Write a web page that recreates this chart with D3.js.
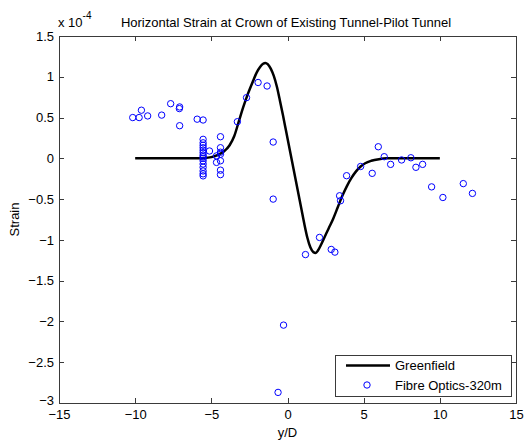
<!DOCTYPE html>
<html><head><meta charset="utf-8">
<script src="https://cdn.jsdelivr.net/npm/d3@7/dist/d3.min.js"></script>
<style>body{margin:0;background:#fff}svg{display:block;font-family:"Liberation Sans",Arial,sans-serif}</style>
</head><body><svg id="c" width="531" height="441"></svg>
<script>
const titleText = "Horizontal Strain at Crown of Existing Tunnel-Pilot Tunnel";
const xTicks = [-15, -10, -5, 0, 5, 10, 15];
const yTicks = [-3, -2.5, -2, -1.5, -1, -0.5, 0, 0.5, 1, 1.5];
const seriesNames = ["Greenfield", "Fibre Optics-320m"];
// Greenfield curve (x10^-4)
const curveX = [-10,-8,-6,-5.5,-5,-4.6,-4.2,-3.8,-3.5,-3.2,-2.9,-2.6,-2.3,-2.0,-1.8,-1.6,-1.45,-1.3,-1.1,-0.9,-0.7,-0.5,-0.3,-0.1,0.1,0.3,0.5,0.7,0.9,1.1,1.3,1.5,1.7,1.85,2.0,2.2,2.4,2.7,3.0,3.3,3.6,3.9,4.2,4.5,4.8,5.1,5.5,6.0,6.5,8,10];
const curveY = [0,0,0,0.003,0.015,0.04,0.08,0.16,0.27,0.45,0.63,0.79,0.93,1.06,1.12,1.16,1.17,1.155,1.10,1.01,0.88,0.71,0.53,0.34,0.15,-0.04,-0.23,-0.42,-0.61,-0.80,-0.97,-1.09,-1.15,-1.16,-1.13,-1.06,-0.98,-0.86,-0.74,-0.60,-0.46,-0.34,-0.24,-0.16,-0.10,-0.06,-0.03,-0.01,0,0,0];
// Fibre optics measurements (x10^-4)
const fibreX = [-10.16,-9.74,-9.59,-9.18,-8.26,-7.67,-7.10,-7.08,-7.08,-5.93,-5.54,
  -5.54,-5.54,-5.54,-5.54,-5.54,-5.54,-5.54,-5.54,-5.54,-5.54,-5.54,-5.54,-5.54,-5.54,-5.54,
  -5.12,-4.4,-4.4,-4.4,-4.4,-4.4,-4.4,-4.4,-4.66,-4.66,
  -3.29,-2.69,-1.93,-1.34,-0.94,-0.94,-0.26,-0.62,
  1.18,2.10,2.87,3.11,3.42,3.48,3.88,4.8,5.56,5.96,6.35,6.77,7.49,8.1,8.43,8.87,9.46,10.2,11.54,12.14];
const fibreY = [0.50,0.50,0.59,0.52,0.53,0.67,0.61,0.63,0.40,0.48,0.47,
  0.233,0.19,0.16,0.13,0.10,0.07,0.04,0.02,0.0,-0.03,-0.07,-0.11,-0.155,-0.19,-0.215,
  0.09,0.265,0.13,0.075,0.05,-0.03,-0.145,-0.2,0.03,-0.05,
  0.449,0.744,0.93,0.887,0.2,-0.5,-2.045,-2.87,
  -1.18,-0.97,-1.117,-1.15,-0.459,-0.52,-0.213,-0.10,-0.184,0.142,0.02,-0.074,-0.02,0.007,-0.11,-0.074,-0.35,-0.48,-0.31,-0.43];

const svg = d3.select("#c");
const L = 59, R = 516, T = 36, B = 403;
const x = d3.scaleLinear().domain([-15, 15]).range([L, R]);
const y = d3.scaleLinear().domain([-3, 1.5]).range([B, T]);
const axisCol = "#3a3a3a";
const fs = "13px";

svg.append("rect").attr("x", L).attr("y", T).attr("width", R - L).attr("height", B - T)
  .attr("fill", "none").attr("stroke", axisCol).attr("stroke-width", 1).attr("shape-rendering", "crispEdges");

const tl = 5;
function styleAxis(g) {
  g.select(".domain").remove();
  g.selectAll(".tick line").attr("stroke", axisCol).attr("shape-rendering", "crispEdges");
  g.selectAll("text").attr("fill", "#000").style("font-size", fs).style("font-family", '"Liberation Sans",Arial,sans-serif');
}
svg.append("g").attr("transform", `translate(0,${B})`)
  .call(d3.axisBottom(x).tickValues(xTicks).tickSize(-tl).tickPadding(4).tickFormat(d3.format("d")))
  .call(styleAxis).selectAll("text").attr("dy", "0.95em");
svg.append("g").attr("transform", `translate(0,${T})`)
  .call(d3.axisTop(x).tickValues(xTicks).tickSize(-tl).tickFormat(""))
  .call(styleAxis);
const yAx = svg.append("g").attr("transform", `translate(${L},0)`)
  .call(d3.axisLeft(y).tickValues(yTicks).tickSize(-tl).tickPadding(5).tickFormat(d => d3.format("")(d)))
  .call(styleAxis);
yAx.selectAll(".tick text").filter(d => d === -3).attr("dy", "0.1em");
svg.append("g").attr("transform", `translate(${R},0)`)
  .call(d3.axisRight(y).tickValues(yTicks).tickSize(-tl).tickFormat(""))
  .call(styleAxis);

const curve = curveX.map((v, i) => [v, curveY[i]]);
svg.append("path").datum(curve)
  .attr("d", d3.line().x(d => x(d[0])).y(d => y(d[1])).curve(d3.curveMonotoneX))
  .attr("fill", "none").attr("stroke", "#000").attr("stroke-width", 2.5).attr("stroke-linejoin", "round");

const pts = fibreX.map((v, i) => [v, fibreY[i]]);
svg.append("g").selectAll("circle").data(pts).join("circle")
  .attr("cx", d => x(d[0])).attr("cy", d => y(d[1])).attr("r", 3.2)
  .attr("fill", "none").attr("stroke", "#0000ff").attr("stroke-width", 1);

svg.append("text").attr("x", 286).attr("y", 27).attr("text-anchor", "middle")
  .style("font-size", fs).text(titleText);
const ex = svg.append("text").attr("x", 58).attr("y", 27).style("font-size", fs);
ex.append("tspan").text("x 10");
ex.append("tspan").attr("dy", -8).style("font-size", "10px").text("-4");
svg.append("text").attr("x", x(0)).attr("y", 437).attr("text-anchor", "middle").style("font-size", fs).text("y/D");
svg.append("text").attr("transform", `translate(19,${(T + B) / 2}) rotate(-90)`).attr("text-anchor", "middle")
  .style("font-size", fs).text("Strain");

const lg = svg.append("g");
const lx0 = 335, ly0 = 355, lw = 176, lh = 41;
lg.append("rect").attr("x", lx0).attr("y", ly0).attr("width", lw).attr("height", lh)
  .attr("fill", "#fff").attr("stroke", axisCol).attr("stroke-width", 1).attr("shape-rendering", "crispEdges");
lg.append("line").attr("x1", lx0 + 11).attr("x2", lx0 + 55).attr("y1", ly0 + 10.5).attr("y2", ly0 + 10.5)
  .attr("stroke", "#000").attr("stroke-width", 2.5);
lg.append("circle").attr("cx", lx0 + 32).attr("cy", ly0 + 30).attr("r", 3.2)
  .attr("fill", "none").attr("stroke", "#0000ff");
lg.selectAll("text.lt").data(seriesNames).join("text").attr("class", "lt")
  .attr("x", lx0 + 60).attr("y", (d, i) => ly0 + 10.5 + i * 19.5).attr("dy", "0.35em")
  .style("font-size", fs).text(d => d);
</script></body></html>
